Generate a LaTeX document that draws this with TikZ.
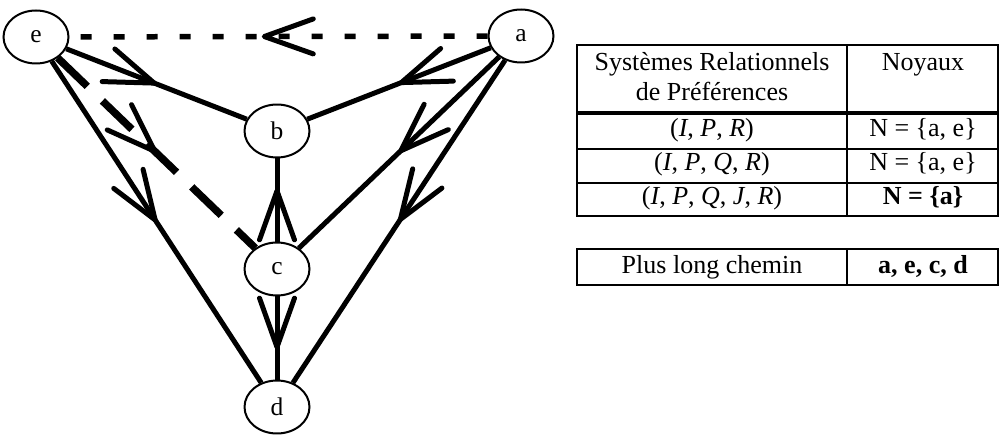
\documentclass[tikz,border=0pt]{standalone}
\usepackage{fontspec}
\setmainfont{Liberation Serif}
\usetikzlibrary{arrows.meta,decorations.markings,shapes.geometric}

\begin{document}
\begin{tikzpicture}[
  x=0.02cm, y=-0.02cm,
  vertex/.style={ellipse, draw, line width=0.04cm, minimum width=1.3cm, minimum height=1.06cm, inner sep=0pt, font=\fontsize{14.5}{16}\selectfont},
  edge/.style={line width=0.1cm},
  vtip/.tip={Straight Barb[length=0.98cm, width=0.7cm, line width=0.1cm, round]},
  midarrow/.style={postaction={decorate}, decoration={markings, mark=at position #1 with {\arrow{vtip}}}},
  shortdash/.style={line width=0.11cm, dash pattern=on 0.22cm off 0.44cm},
  longdash/.style={line width=0.15cm, dash pattern=on 0.82cm off 0.42cm},
  cell/.style={font=\fontsize{14.8}{17}\selectfont, inner sep=0pt, text height=0.7em, text depth=0.25em},
  rule/.style={line width=0.04cm}
]
\useasboundingbox (0,0) rectangle (1000,435);
% graph
\node[vertex] (e) at (36,37) {e};
\node[vertex] (a) at (521,36) {a};
\node[vertex] (b) at (277,131) {b};
\node[vertex] (c) at (277,269) {c};
\node[vertex] (d) at (277,407) {d};
\draw[shortdash, midarrow=0.54] (a) -- (e);
\draw[edge, midarrow=0.5] (e) -- (b);
\draw[edge, midarrow=0.5] (a) -- (b);
\draw[longdash, midarrow=0.5] (e) -- (c);
\draw[edge, midarrow=0.5] (a) -- (c);
\draw[edge, midarrow=0.5] (e) -- (d);
\draw[edge, midarrow=0.5] (a) -- (d);
\draw[edge, midarrow=0.64] (c) -- (b);
\draw[edge, midarrow=0.64] (c) -- (d);

% table of kernels
\draw[rule] (577,45) rectangle (998,216);
\draw[rule] (847,45) -- (847,216);
\draw[line width=0.08cm] (577,113) -- (998,113);
\draw[rule] (577,149) -- (998,149);
\draw[rule] (577,183) -- (998,183);
\node[cell] (sys1) at (712,67) {Systèmes Relationnels};
\node[cell] (sys2) at (712,97) {de Préférences};
\node[cell] (noy) at (923,67) {Noyaux};
\node[cell] (r1) at (712,133) {(\textit{I}, \textit{P}, \textit{R})};
\node[cell] (k1) at (923,133) {N = \{a, e\}};
\node[cell] (r2) at (712,167) {(\textit{I}, \textit{P}, \textit{Q}, \textit{R})};
\node[cell] (k2) at (923,167) {N = \{a, e\}};
\node[cell] (r3) at (712,201) {(\textit{I}, \textit{P}, \textit{Q}, \textit{J}, \textit{R})};
\node[cell] (k3) at (923,201) {\textbf{N = \{a\}}};

% longest path
\draw[rule] (577,249) rectangle (998,285);
\draw[rule] (847,249) -- (847,285);
\node[cell] (plc) at (712,270) {Plus long chemin};
\node[cell] (path) at (923,270) {\textbf{a, e, c, d}};
\end{tikzpicture}
\end{document}
